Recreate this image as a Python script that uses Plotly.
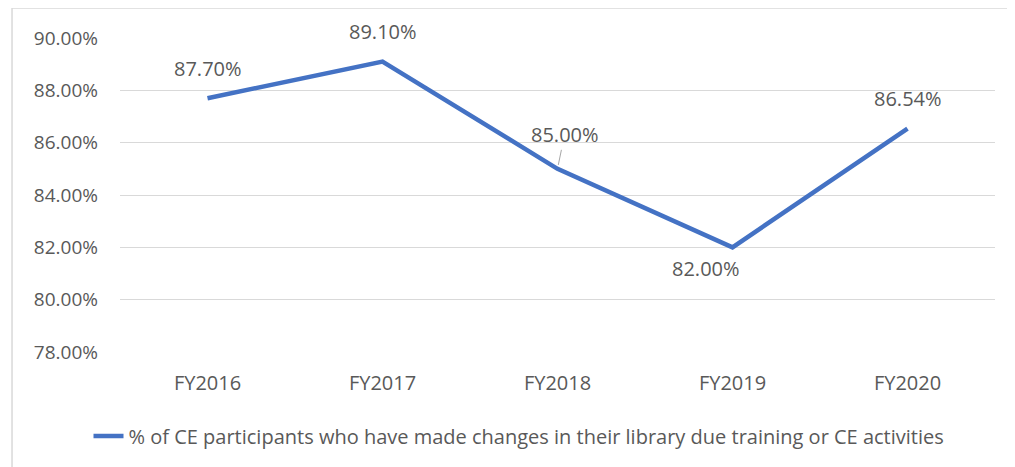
import plotly.graph_objects as go

categories = ["FY2016", "FY2017", "FY2018", "FY2019", "FY2020"]
values = [87.70, 89.10, 85.00, 82.00, 86.54]
series_name = "% of CE participants who have made changes in their library due training or CE activities"
label_texts = ["87.70%", "89.10%", "85.00%", "82.00%", "86.54%"]

FONT = "Open Sans"
GRAY = "#595959"
BLUE = "#4472C4"

fig = go.Figure()
fig.add_trace(go.Scatter(
    x=categories, y=values, mode="lines", name=series_name,
    line=dict(color=BLUE, width=4.5),
    showlegend=True,
))

# label placement (pixel offsets)
shifts = [(0, 30, False), (0, 30, False), (7, -34, True), (-27, -21, False), (0, 30, False)]
for cat, val, txt, (dx, dy, arrow) in zip(categories, values, label_texts, shifts):
    if arrow:
        fig.add_annotation(x=cat, y=val, text=txt, showarrow=True, ax=dx, ay=dy,
                           arrowhead=0, arrowwidth=1, arrowcolor="#a6a6a6", standoff=4,
                           font=dict(family=FONT, size=20, color=GRAY))
    else:
        fig.add_annotation(x=cat, y=val, text=txt, showarrow=False, xshift=dx, yshift=dy,
                           font=dict(family=FONT, size=20, color=GRAY))

# outer chart border
fig.add_shape(type="rect", xref="paper", yref="paper", x0=-0.1234, x1=1.08, y0=-0.5, y1=1.0955,
              line=dict(color="#d9d9d9", width=1.5), fillcolor="rgba(0,0,0,0)", layer="below")

fig.update_layout(
    width=1015, height=467,
    margin=dict(l=112, r=28, t=30, b=123),
    paper_bgcolor="white", plot_bgcolor="white",
    font=dict(family=FONT, size=19, color=GRAY),
    legend=dict(orientation="h", x=0.456, xanchor="center", y=-0.2675, yanchor="middle",
                font=dict(family=FONT, size=20, color=GRAY)),
    xaxis=dict(range=[-0.5, 4.5], showgrid=False, zeroline=False, showline=False,
               ticks="", ticklabelstandoff=17, tickfont=dict(family=FONT, size=20, color=GRAY)),
    yaxis=dict(range=[78, 90], dtick=2, tick0=78, ticksuffix="%", tickformat=".2f",
               showgrid=True, gridcolor="#d9d9d9", gridwidth=1, zeroline=False, showline=False,
               ticks="", ticklabelstandoff=21, tickfont=dict(family=FONT, size=19, color=GRAY)),
)

fig.write_html("out.html")
